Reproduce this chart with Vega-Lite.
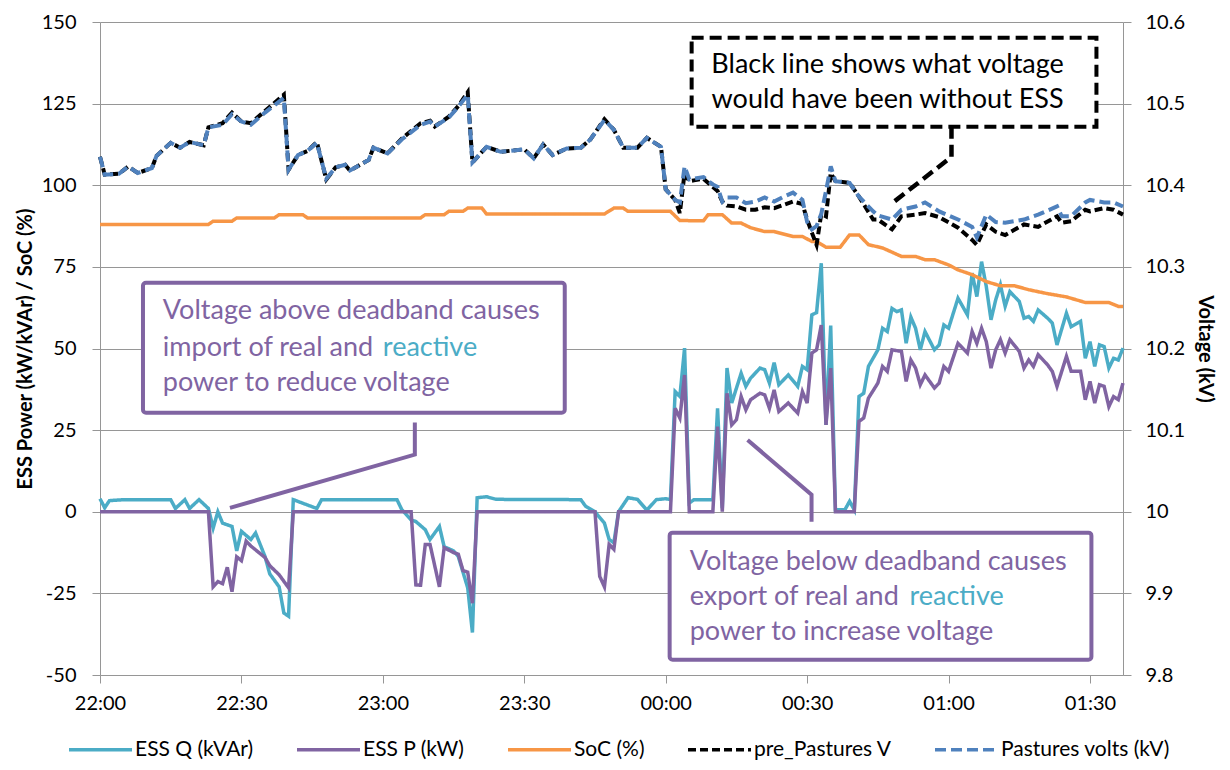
{
  "$schema": "https://vega.github.io/schema/vega-lite/v6.json",
  "width": 1023,
  "height": 653,
  "autosize": "none",
  "padding": {"left": 100, "top": 22, "right": 107, "bottom": 95},
  "background": "white",
  "config": {
    "view": {"stroke": null},
    "font": "Lato",
    "legend": {
      "orient": "none",
      "legendX": -33,
      "legendY": 694,
      "direction": "horizontal",
      "columns": 5,
      "symbolType": "stroke",
      "symbolSize": 3969,
      "symbolStrokeWidth": 3.5,
      "labelFontSize": 21,
      "labelFont": "Lato",
      "labelColor": "#000000",
      "labelOffset": 1,
      "labelLimit": 400,
      "columnPadding": 36,
      "padding": 0
    }
  },
  "datasets": {
    "series": [
      {"time":"2020-01-01T22:00","series":"ESS Q (kVAr)","value":4},
      {"time":"2020-01-01T22:01","series":"ESS Q (kVAr)","value":1.2},
      {"time":"2020-01-01T22:02","series":"ESS Q (kVAr)","value":3.4},
      {"time":"2020-01-01T22:05","series":"ESS Q (kVAr)","value":3.7},
      {"time":"2020-01-01T22:15","series":"ESS Q (kVAr)","value":3.7},
      {"time":"2020-01-01T22:16","series":"ESS Q (kVAr)","value":1},
      {"time":"2020-01-01T22:18","series":"ESS Q (kVAr)","value":3.7},
      {"time":"2020-01-01T22:19","series":"ESS Q (kVAr)","value":1},
      {"time":"2020-01-01T22:21","series":"ESS Q (kVAr)","value":3.7},
      {"time":"2020-01-01T22:23","series":"ESS Q (kVAr)","value":1},
      {"time":"2020-01-01T22:24","series":"ESS Q (kVAr)","value":-5},
      {"time":"2020-01-01T22:25","series":"ESS Q (kVAr)","value":0},
      {"time":"2020-01-01T22:26","series":"ESS Q (kVAr)","value":-3.5},
      {"time":"2020-01-01T22:28","series":"ESS Q (kVAr)","value":-4.5},
      {"time":"2020-01-01T22:29","series":"ESS Q (kVAr)","value":-12},
      {"time":"2020-01-01T22:30","series":"ESS Q (kVAr)","value":-6},
      {"time":"2020-01-01T22:32","series":"ESS Q (kVAr)","value":-8.5},
      {"time":"2020-01-01T22:33","series":"ESS Q (kVAr)","value":-6.5},
      {"time":"2020-01-01T22:35","series":"ESS Q (kVAr)","value":-13.7},
      {"time":"2020-01-01T22:36","series":"ESS Q (kVAr)","value":-19},
      {"time":"2020-01-01T22:38","series":"ESS Q (kVAr)","value":-23},
      {"time":"2020-01-01T22:39","series":"ESS Q (kVAr)","value":-31},
      {"time":"2020-01-01T22:40","series":"ESS Q (kVAr)","value":-32},
      {"time":"2020-01-01T22:41","series":"ESS Q (kVAr)","value":3.7},
      {"time":"2020-01-01T22:46","series":"ESS Q (kVAr)","value":1},
      {"time":"2020-01-01T22:47","series":"ESS Q (kVAr)","value":3.7},
      {"time":"2020-01-01T23:03","series":"ESS Q (kVAr)","value":3.7},
      {"time":"2020-01-01T23:04","series":"ESS Q (kVAr)","value":0.7},
      {"time":"2020-01-01T23:06","series":"ESS Q (kVAr)","value":-2.5},
      {"time":"2020-01-01T23:07","series":"ESS Q (kVAr)","value":-3},
      {"time":"2020-01-01T23:09","series":"ESS Q (kVAr)","value":-5.5},
      {"time":"2020-01-01T23:10","series":"ESS Q (kVAr)","value":-8.5},
      {"time":"2020-01-01T23:12","series":"ESS Q (kVAr)","value":-4.5},
      {"time":"2020-01-01T23:13","series":"ESS Q (kVAr)","value":-10.7},
      {"time":"2020-01-01T23:15","series":"ESS Q (kVAr)","value":-12},
      {"time":"2020-01-01T23:16","series":"ESS Q (kVAr)","value":-13.7},
      {"time":"2020-01-01T23:17","series":"ESS Q (kVAr)","value":-18.5},
      {"time":"2020-01-01T23:18","series":"ESS Q (kVAr)","value":-23.3},
      {"time":"2020-01-01T23:19","series":"ESS Q (kVAr)","value":-37},
      {"time":"2020-01-01T23:20","series":"ESS Q (kVAr)","value":4.3},
      {"time":"2020-01-01T23:22","series":"ESS Q (kVAr)","value":4.6},
      {"time":"2020-01-01T23:24","series":"ESS Q (kVAr)","value":3.8},
      {"time":"2020-01-01T23:42","series":"ESS Q (kVAr)","value":3.7},
      {"time":"2020-01-01T23:43","series":"ESS Q (kVAr)","value":1.7},
      {"time":"2020-01-01T23:45","series":"ESS Q (kVAr)","value":0},
      {"time":"2020-01-01T23:47","series":"ESS Q (kVAr)","value":-3.5},
      {"time":"2020-01-01T23:48","series":"ESS Q (kVAr)","value":-8.5},
      {"time":"2020-01-01T23:49","series":"ESS Q (kVAr)","value":-9.5},
      {"time":"2020-01-01T23:50","series":"ESS Q (kVAr)","value":0},
      {"time":"2020-01-01T23:52","series":"ESS Q (kVAr)","value":4.3},
      {"time":"2020-01-01T23:54","series":"ESS Q (kVAr)","value":3.8},
      {"time":"2020-01-01T23:56","series":"ESS Q (kVAr)","value":0.5},
      {"time":"2020-01-01T23:58","series":"ESS Q (kVAr)","value":3.7},
      {"time":"2020-01-02T00:00","series":"ESS Q (kVAr)","value":4},
      {"time":"2020-01-02T00:01","series":"ESS Q (kVAr)","value":3.7},
      {"time":"2020-01-02T00:02","series":"ESS Q (kVAr)","value":36.8},
      {"time":"2020-01-02T00:03","series":"ESS Q (kVAr)","value":35.3},
      {"time":"2020-01-02T00:04","series":"ESS Q (kVAr)","value":50.1},
      {"time":"2020-01-02T00:05","series":"ESS Q (kVAr)","value":2.7},
      {"time":"2020-01-02T00:06","series":"ESS Q (kVAr)","value":3.7},
      {"time":"2020-01-02T00:10","series":"ESS Q (kVAr)","value":3.7},
      {"time":"2020-01-02T00:11","series":"ESS Q (kVAr)","value":31.7},
      {"time":"2020-01-02T00:12","series":"ESS Q (kVAr)","value":1.1},
      {"time":"2020-01-02T00:13","series":"ESS Q (kVAr)","value":44},
      {"time":"2020-01-02T00:14","series":"ESS Q (kVAr)","value":33.3},
      {"time":"2020-01-02T00:16","series":"ESS Q (kVAr)","value":42.4},
      {"time":"2020-01-02T00:17","series":"ESS Q (kVAr)","value":38.4},
      {"time":"2020-01-02T00:18","series":"ESS Q (kVAr)","value":40.9},
      {"time":"2020-01-02T00:20","series":"ESS Q (kVAr)","value":44},
      {"time":"2020-01-02T00:21","series":"ESS Q (kVAr)","value":43.5},
      {"time":"2020-01-02T00:22","series":"ESS Q (kVAr)","value":39.4},
      {"time":"2020-01-02T00:23","series":"ESS Q (kVAr)","value":45.7},
      {"time":"2020-01-02T00:24","series":"ESS Q (kVAr)","value":38.9},
      {"time":"2020-01-02T00:26","series":"ESS Q (kVAr)","value":41.9},
      {"time":"2020-01-02T00:28","series":"ESS Q (kVAr)","value":38.4},
      {"time":"2020-01-02T00:29","series":"ESS Q (kVAr)","value":44.5},
      {"time":"2020-01-02T00:30","series":"ESS Q (kVAr)","value":43.5},
      {"time":"2020-01-02T00:31","series":"ESS Q (kVAr)","value":60.3},
      {"time":"2020-01-02T00:32","series":"ESS Q (kVAr)","value":61},
      {"time":"2020-01-02T00:33","series":"ESS Q (kVAr)","value":76.1},
      {"time":"2020-01-02T00:34","series":"ESS Q (kVAr)","value":26.6},
      {"time":"2020-01-02T00:35","series":"ESS Q (kVAr)","value":57},
      {"time":"2020-01-02T00:36","series":"ESS Q (kVAr)","value":0.6},
      {"time":"2020-01-02T00:38","series":"ESS Q (kVAr)","value":0.6},
      {"time":"2020-01-02T00:39","series":"ESS Q (kVAr)","value":3.2},
      {"time":"2020-01-02T00:40","series":"ESS Q (kVAr)","value":0.6},
      {"time":"2020-01-02T00:41","series":"ESS Q (kVAr)","value":35.3},
      {"time":"2020-01-02T00:42","series":"ESS Q (kVAr)","value":36.3},
      {"time":"2020-01-02T00:43","series":"ESS Q (kVAr)","value":44.5},
      {"time":"2020-01-02T00:45","series":"ESS Q (kVAr)","value":49.6},
      {"time":"2020-01-02T00:46","series":"ESS Q (kVAr)","value":56.2},
      {"time":"2020-01-02T00:47","series":"ESS Q (kVAr)","value":55.2},
      {"time":"2020-01-02T00:48","series":"ESS Q (kVAr)","value":62.3},
      {"time":"2020-01-02T00:49","series":"ESS Q (kVAr)","value":61.3},
      {"time":"2020-01-02T00:50","series":"ESS Q (kVAr)","value":61.8},
      {"time":"2020-01-02T00:51","series":"ESS Q (kVAr)","value":51.6},
      {"time":"2020-01-02T00:52","series":"ESS Q (kVAr)","value":59.6},
      {"time":"2020-01-02T00:53","series":"ESS Q (kVAr)","value":56.2},
      {"time":"2020-01-02T00:54","series":"ESS Q (kVAr)","value":49.6},
      {"time":"2020-01-02T00:55","series":"ESS Q (kVAr)","value":55.2},
      {"time":"2020-01-02T00:57","series":"ESS Q (kVAr)","value":49.6},
      {"time":"2020-01-02T00:58","series":"ESS Q (kVAr)","value":51.1},
      {"time":"2020-01-02T00:59","series":"ESS Q (kVAr)","value":57.2},
      {"time":"2020-01-02T01:00","series":"ESS Q (kVAr)","value":56.2},
      {"time":"2020-01-02T01:02","series":"ESS Q (kVAr)","value":65.4},
      {"time":"2020-01-02T01:04","series":"ESS Q (kVAr)","value":60.3},
      {"time":"2020-01-02T01:05","series":"ESS Q (kVAr)","value":73.1},
      {"time":"2020-01-02T01:06","series":"ESS Q (kVAr)","value":65.9},
      {"time":"2020-01-02T01:07","series":"ESS Q (kVAr)","value":76.6},
      {"time":"2020-01-02T01:08","series":"ESS Q (kVAr)","value":69},
      {"time":"2020-01-02T01:09","series":"ESS Q (kVAr)","value":58.8},
      {"time":"2020-01-02T01:10","series":"ESS Q (kVAr)","value":64.9},
      {"time":"2020-01-02T01:11","series":"ESS Q (kVAr)","value":69.5},
      {"time":"2020-01-02T01:12","series":"ESS Q (kVAr)","value":62.9},
      {"time":"2020-01-02T01:13","series":"ESS Q (kVAr)","value":67.4},
      {"time":"2020-01-02T01:15","series":"ESS Q (kVAr)","value":64.4},
      {"time":"2020-01-02T01:16","series":"ESS Q (kVAr)","value":59.3},
      {"time":"2020-01-02T01:17","series":"ESS Q (kVAr)","value":59.8},
      {"time":"2020-01-02T01:18","series":"ESS Q (kVAr)","value":58.3},
      {"time":"2020-01-02T01:19","series":"ESS Q (kVAr)","value":61.8},
      {"time":"2020-01-02T01:21","series":"ESS Q (kVAr)","value":59.3},
      {"time":"2020-01-02T01:22","series":"ESS Q (kVAr)","value":57.8},
      {"time":"2020-01-02T01:23","series":"ESS Q (kVAr)","value":51.1},
      {"time":"2020-01-02T01:25","series":"ESS Q (kVAr)","value":60.8},
      {"time":"2020-01-02T01:26","series":"ESS Q (kVAr)","value":56.7},
      {"time":"2020-01-02T01:28","series":"ESS Q (kVAr)","value":58.3},
      {"time":"2020-01-02T01:29","series":"ESS Q (kVAr)","value":47},
      {"time":"2020-01-02T01:30","series":"ESS Q (kVAr)","value":52.1},
      {"time":"2020-01-02T01:31","series":"ESS Q (kVAr)","value":44.5},
      {"time":"2020-01-02T01:32","series":"ESS Q (kVAr)","value":51.1},
      {"time":"2020-01-02T01:33","series":"ESS Q (kVAr)","value":50.6},
      {"time":"2020-01-02T01:34","series":"ESS Q (kVAr)","value":44},
      {"time":"2020-01-02T01:35","series":"ESS Q (kVAr)","value":47},
      {"time":"2020-01-02T01:36","series":"ESS Q (kVAr)","value":46.5},
      {"time":"2020-01-02T01:37","series":"ESS Q (kVAr)","value":50.1},

      {"time":"2020-01-01T22:00","series":"ESS P (kW)","value":0},
      {"time":"2020-01-01T22:23","series":"ESS P (kW)","value":0},
      {"time":"2020-01-01T22:24","series":"ESS P (kW)","value":-23},
      {"time":"2020-01-01T22:25","series":"ESS P (kW)","value":-21.4},
      {"time":"2020-01-01T22:26","series":"ESS P (kW)","value":-22},
      {"time":"2020-01-01T22:27","series":"ESS P (kW)","value":-17},
      {"time":"2020-01-01T22:28","series":"ESS P (kW)","value":-24.5},
      {"time":"2020-01-01T22:29","series":"ESS P (kW)","value":-13.8},
      {"time":"2020-01-01T22:30","series":"ESS P (kW)","value":-15},
      {"time":"2020-01-01T22:31","series":"ESS P (kW)","value":-9},
      {"time":"2020-01-01T22:32","series":"ESS P (kW)","value":-10.5},
      {"time":"2020-01-01T22:35","series":"ESS P (kW)","value":-14},
      {"time":"2020-01-01T22:36","series":"ESS P (kW)","value":-16.5},
      {"time":"2020-01-01T22:38","series":"ESS P (kW)","value":-19.3},
      {"time":"2020-01-01T22:40","series":"ESS P (kW)","value":-23.3},
      {"time":"2020-01-01T22:41","series":"ESS P (kW)","value":0},
      {"time":"2020-01-01T23:06","series":"ESS P (kW)","value":0},
      {"time":"2020-01-01T23:07","series":"ESS P (kW)","value":-22.4},
      {"time":"2020-01-01T23:08","series":"ESS P (kW)","value":-22.5},
      {"time":"2020-01-01T23:09","series":"ESS P (kW)","value":-10},
      {"time":"2020-01-01T23:10","series":"ESS P (kW)","value":-10},
      {"time":"2020-01-01T23:12","series":"ESS P (kW)","value":-23},
      {"time":"2020-01-01T23:13","series":"ESS P (kW)","value":-11},
      {"time":"2020-01-01T23:15","series":"ESS P (kW)","value":-12.5},
      {"time":"2020-01-01T23:16","series":"ESS P (kW)","value":-13},
      {"time":"2020-01-01T23:17","series":"ESS P (kW)","value":-18},
      {"time":"2020-01-01T23:18","series":"ESS P (kW)","value":-18.5},
      {"time":"2020-01-01T23:19","series":"ESS P (kW)","value":-28},
      {"time":"2020-01-01T23:20","series":"ESS P (kW)","value":0},
      {"time":"2020-01-01T23:45","series":"ESS P (kW)","value":0},
      {"time":"2020-01-01T23:46","series":"ESS P (kW)","value":-19.8},
      {"time":"2020-01-01T23:47","series":"ESS P (kW)","value":-23},
      {"time":"2020-01-01T23:48","series":"ESS P (kW)","value":-10},
      {"time":"2020-01-01T23:49","series":"ESS P (kW)","value":-11.5},
      {"time":"2020-01-01T23:50","series":"ESS P (kW)","value":0},
      {"time":"2020-01-02T00:01","series":"ESS P (kW)","value":0},
      {"time":"2020-01-02T00:02","series":"ESS P (kW)","value":31.7},
      {"time":"2020-01-02T00:03","series":"ESS P (kW)","value":28.7},
      {"time":"2020-01-02T00:04","series":"ESS P (kW)","value":41.9},
      {"time":"2020-01-02T00:05","series":"ESS P (kW)","value":0},
      {"time":"2020-01-02T00:10","series":"ESS P (kW)","value":0},
      {"time":"2020-01-02T00:11","series":"ESS P (kW)","value":26.1},
      {"time":"2020-01-02T00:12","series":"ESS P (kW)","value":0},
      {"time":"2020-01-02T00:13","series":"ESS P (kW)","value":36.3},
      {"time":"2020-01-02T00:14","series":"ESS P (kW)","value":26.6},
      {"time":"2020-01-02T00:15","series":"ESS P (kW)","value":28.2},
      {"time":"2020-01-02T00:16","series":"ESS P (kW)","value":35.3},
      {"time":"2020-01-02T00:17","series":"ESS P (kW)","value":31.2},
      {"time":"2020-01-02T00:18","series":"ESS P (kW)","value":34.3},
      {"time":"2020-01-02T00:20","series":"ESS P (kW)","value":36.3},
      {"time":"2020-01-02T00:21","series":"ESS P (kW)","value":35.8},
      {"time":"2020-01-02T00:22","series":"ESS P (kW)","value":31.7},
      {"time":"2020-01-02T00:23","series":"ESS P (kW)","value":37.3},
      {"time":"2020-01-02T00:24","series":"ESS P (kW)","value":30.7},
      {"time":"2020-01-02T00:26","series":"ESS P (kW)","value":33.3},
      {"time":"2020-01-02T00:28","series":"ESS P (kW)","value":30.2},
      {"time":"2020-01-02T00:29","series":"ESS P (kW)","value":36.8},
      {"time":"2020-01-02T00:30","series":"ESS P (kW)","value":33.3},
      {"time":"2020-01-02T00:31","series":"ESS P (kW)","value":48.6},
      {"time":"2020-01-02T00:32","series":"ESS P (kW)","value":49.6},
      {"time":"2020-01-02T00:33","series":"ESS P (kW)","value":57.2},
      {"time":"2020-01-02T00:34","series":"ESS P (kW)","value":26.6},
      {"time":"2020-01-02T00:35","series":"ESS P (kW)","value":44},
      {"time":"2020-01-02T00:36","series":"ESS P (kW)","value":0},
      {"time":"2020-01-02T00:40","series":"ESS P (kW)","value":0},
      {"time":"2020-01-02T00:41","series":"ESS P (kW)","value":27.7},
      {"time":"2020-01-02T00:42","series":"ESS P (kW)","value":28.7},
      {"time":"2020-01-02T00:43","series":"ESS P (kW)","value":34.8},
      {"time":"2020-01-02T00:45","series":"ESS P (kW)","value":39.4},
      {"time":"2020-01-02T00:46","series":"ESS P (kW)","value":44.5},
      {"time":"2020-01-02T00:47","series":"ESS P (kW)","value":43},
      {"time":"2020-01-02T00:48","series":"ESS P (kW)","value":49.6},
      {"time":"2020-01-02T00:50","series":"ESS P (kW)","value":49.1},
      {"time":"2020-01-02T00:51","series":"ESS P (kW)","value":39.9},
      {"time":"2020-01-02T00:52","series":"ESS P (kW)","value":46.5},
      {"time":"2020-01-02T00:53","series":"ESS P (kW)","value":44},
      {"time":"2020-01-02T00:54","series":"ESS P (kW)","value":38.9},
      {"time":"2020-01-02T00:55","series":"ESS P (kW)","value":41.9},
      {"time":"2020-01-02T00:57","series":"ESS P (kW)","value":37.9},
      {"time":"2020-01-02T00:58","series":"ESS P (kW)","value":39.4},
      {"time":"2020-01-02T00:59","series":"ESS P (kW)","value":44.5},
      {"time":"2020-01-02T01:00","series":"ESS P (kW)","value":43},
      {"time":"2020-01-02T01:02","series":"ESS P (kW)","value":51.6},
      {"time":"2020-01-02T01:04","series":"ESS P (kW)","value":48.6},
      {"time":"2020-01-02T01:05","series":"ESS P (kW)","value":55.2},
      {"time":"2020-01-02T01:06","series":"ESS P (kW)","value":51.6},
      {"time":"2020-01-02T01:07","series":"ESS P (kW)","value":56.2},
      {"time":"2020-01-02T01:08","series":"ESS P (kW)","value":52.1},
      {"time":"2020-01-02T01:09","series":"ESS P (kW)","value":44},
      {"time":"2020-01-02T01:10","series":"ESS P (kW)","value":49.6},
      {"time":"2020-01-02T01:11","series":"ESS P (kW)","value":52.7},
      {"time":"2020-01-02T01:12","series":"ESS P (kW)","value":48.6},
      {"time":"2020-01-02T01:13","series":"ESS P (kW)","value":52.7},
      {"time":"2020-01-02T01:15","series":"ESS P (kW)","value":49.1},
      {"time":"2020-01-02T01:16","series":"ESS P (kW)","value":44},
      {"time":"2020-01-02T01:17","series":"ESS P (kW)","value":46.5},
      {"time":"2020-01-02T01:18","series":"ESS P (kW)","value":44.5},
      {"time":"2020-01-02T01:19","series":"ESS P (kW)","value":48.1},
      {"time":"2020-01-02T01:21","series":"ESS P (kW)","value":45},
      {"time":"2020-01-02T01:22","series":"ESS P (kW)","value":43},
      {"time":"2020-01-02T01:23","series":"ESS P (kW)","value":38.4},
      {"time":"2020-01-02T01:25","series":"ESS P (kW)","value":47.6},
      {"time":"2020-01-02T01:26","series":"ESS P (kW)","value":43},
      {"time":"2020-01-02T01:28","series":"ESS P (kW)","value":43},
      {"time":"2020-01-02T01:29","series":"ESS P (kW)","value":34.3},
      {"time":"2020-01-02T01:30","series":"ESS P (kW)","value":39.9},
      {"time":"2020-01-02T01:31","series":"ESS P (kW)","value":33.3},
      {"time":"2020-01-02T01:32","series":"ESS P (kW)","value":38.9},
      {"time":"2020-01-02T01:33","series":"ESS P (kW)","value":38.4},
      {"time":"2020-01-02T01:34","series":"ESS P (kW)","value":32.2},
      {"time":"2020-01-02T01:35","series":"ESS P (kW)","value":35.3},
      {"time":"2020-01-02T01:36","series":"ESS P (kW)","value":34.3},
      {"time":"2020-01-02T01:37","series":"ESS P (kW)","value":39.4},

      {"time":"2020-01-01T22:00","series":"SoC (%)","value":88},
      {"time":"2020-01-01T22:23","series":"SoC (%)","value":88},
      {"time":"2020-01-01T22:24","series":"SoC (%)","value":89},
      {"time":"2020-01-01T22:28","series":"SoC (%)","value":89},
      {"time":"2020-01-01T22:29","series":"SoC (%)","value":90},
      {"time":"2020-01-01T22:37","series":"SoC (%)","value":90},
      {"time":"2020-01-01T22:38","series":"SoC (%)","value":91},
      {"time":"2020-01-01T22:43","series":"SoC (%)","value":91},
      {"time":"2020-01-01T22:44","series":"SoC (%)","value":90},
      {"time":"2020-01-01T23:08","series":"SoC (%)","value":90},
      {"time":"2020-01-01T23:09","series":"SoC (%)","value":91},
      {"time":"2020-01-01T23:13","series":"SoC (%)","value":91},
      {"time":"2020-01-01T23:14","series":"SoC (%)","value":92},
      {"time":"2020-01-01T23:17","series":"SoC (%)","value":92},
      {"time":"2020-01-01T23:18","series":"SoC (%)","value":93},
      {"time":"2020-01-01T23:21","series":"SoC (%)","value":93},
      {"time":"2020-01-01T23:22","series":"SoC (%)","value":91.2},
      {"time":"2020-01-01T23:47","series":"SoC (%)","value":91.2},
      {"time":"2020-01-01T23:49","series":"SoC (%)","value":93},
      {"time":"2020-01-01T23:51","series":"SoC (%)","value":93},
      {"time":"2020-01-01T23:52","series":"SoC (%)","value":92},
      {"time":"2020-01-02T00:01","series":"SoC (%)","value":92},
      {"time":"2020-01-02T00:03","series":"SoC (%)","value":89.2},
      {"time":"2020-01-02T00:08","series":"SoC (%)","value":89.1},
      {"time":"2020-01-02T00:09","series":"SoC (%)","value":91},
      {"time":"2020-01-02T00:12","series":"SoC (%)","value":91},
      {"time":"2020-01-02T00:14","series":"SoC (%)","value":88.4},
      {"time":"2020-01-02T00:16","series":"SoC (%)","value":88.4},
      {"time":"2020-01-02T00:18","series":"SoC (%)","value":87},
      {"time":"2020-01-02T00:21","series":"SoC (%)","value":85.8},
      {"time":"2020-01-02T00:23","series":"SoC (%)","value":85.8},
      {"time":"2020-01-02T00:27","series":"SoC (%)","value":84.3},
      {"time":"2020-01-02T00:29","series":"SoC (%)","value":84.3},
      {"time":"2020-01-02T00:31","series":"SoC (%)","value":82.8},
      {"time":"2020-01-02T00:32","series":"SoC (%)","value":82.8},
      {"time":"2020-01-02T00:34","series":"SoC (%)","value":81},
      {"time":"2020-01-02T00:37","series":"SoC (%)","value":81},
      {"time":"2020-01-02T00:39","series":"SoC (%)","value":84.8},
      {"time":"2020-01-02T00:41","series":"SoC (%)","value":84.8},
      {"time":"2020-01-02T00:43","series":"SoC (%)","value":81.8},
      {"time":"2020-01-02T00:46","series":"SoC (%)","value":80.8},
      {"time":"2020-01-02T00:50","series":"SoC (%)","value":78.2},
      {"time":"2020-01-02T00:53","series":"SoC (%)","value":78.2},
      {"time":"2020-01-02T00:55","series":"SoC (%)","value":77.2},
      {"time":"2020-01-02T00:57","series":"SoC (%)","value":77.2},
      {"time":"2020-01-02T01:00","series":"SoC (%)","value":75.6},
      {"time":"2020-01-02T01:02","series":"SoC (%)","value":74.1},
      {"time":"2020-01-02T01:05","series":"SoC (%)","value":72.6},
      {"time":"2020-01-02T01:08","series":"SoC (%)","value":70.5},
      {"time":"2020-01-02T01:11","series":"SoC (%)","value":69.2},
      {"time":"2020-01-02T01:14","series":"SoC (%)","value":69.2},
      {"time":"2020-01-02T01:17","series":"SoC (%)","value":68},
      {"time":"2020-01-02T01:21","series":"SoC (%)","value":66.8},
      {"time":"2020-01-02T01:25","series":"SoC (%)","value":65.8},
      {"time":"2020-01-02T01:29","series":"SoC (%)","value":64.1},
      {"time":"2020-01-02T01:34","series":"SoC (%)","value":64.1},
      {"time":"2020-01-02T01:36","series":"SoC (%)","value":62.9},
      {"time":"2020-01-02T01:37","series":"SoC (%)","value":62.9},

      {"time":"2020-01-01T22:00","series":"pre_Pastures V","value":10.435},
      {"time":"2020-01-01T22:01","series":"pre_Pastures V","value":10.413},
      {"time":"2020-01-01T22:04","series":"pre_Pastures V","value":10.414},
      {"time":"2020-01-01T22:06","series":"pre_Pastures V","value":10.423},
      {"time":"2020-01-01T22:08","series":"pre_Pastures V","value":10.415},
      {"time":"2020-01-01T22:11","series":"pre_Pastures V","value":10.421},
      {"time":"2020-01-01T22:12","series":"pre_Pastures V","value":10.436},
      {"time":"2020-01-01T22:15","series":"pre_Pastures V","value":10.452},
      {"time":"2020-01-01T22:17","series":"pre_Pastures V","value":10.446},
      {"time":"2020-01-01T22:19","series":"pre_Pastures V","value":10.453},
      {"time":"2020-01-01T22:22","series":"pre_Pastures V","value":10.449},
      {"time":"2020-01-01T22:23","series":"pre_Pastures V","value":10.471},
      {"time":"2020-01-01T22:26","series":"pre_Pastures V","value":10.476},
      {"time":"2020-01-01T22:28","series":"pre_Pastures V","value":10.489},
      {"time":"2020-01-01T22:30","series":"pre_Pastures V","value":10.478},
      {"time":"2020-01-01T22:32","series":"pre_Pastures V","value":10.476},
      {"time":"2020-01-01T22:35","series":"pre_Pastures V","value":10.491},
      {"time":"2020-01-01T22:39","series":"pre_Pastures V","value":10.511},
      {"time":"2020-01-01T22:40","series":"pre_Pastures V","value":10.419},
      {"time":"2020-01-01T22:42","series":"pre_Pastures V","value":10.437},
      {"time":"2020-01-01T22:44","series":"pre_Pastures V","value":10.442},
      {"time":"2020-01-01T22:46","series":"pre_Pastures V","value":10.453},
      {"time":"2020-01-01T22:48","series":"pre_Pastures V","value":10.407},
      {"time":"2020-01-01T22:50","series":"pre_Pastures V","value":10.422},
      {"time":"2020-01-01T22:52","series":"pre_Pastures V","value":10.425},
      {"time":"2020-01-01T22:53","series":"pre_Pastures V","value":10.418},
      {"time":"2020-01-01T22:57","series":"pre_Pastures V","value":10.431},
      {"time":"2020-01-01T22:58","series":"pre_Pastures V","value":10.446},
      {"time":"2020-01-01T23:01","series":"pre_Pastures V","value":10.439},
      {"time":"2020-01-01T23:04","series":"pre_Pastures V","value":10.457},
      {"time":"2020-01-01T23:08","series":"pre_Pastures V","value":10.476},
      {"time":"2020-01-01T23:10","series":"pre_Pastures V","value":10.479},
      {"time":"2020-01-01T23:11","series":"pre_Pastures V","value":10.472},
      {"time":"2020-01-01T23:14","series":"pre_Pastures V","value":10.484},
      {"time":"2020-01-01T23:16","series":"pre_Pastures V","value":10.497},
      {"time":"2020-01-01T23:18","series":"pre_Pastures V","value":10.514},
      {"time":"2020-01-01T23:19","series":"pre_Pastures V","value":10.428},
      {"time":"2020-01-01T23:22","series":"pre_Pastures V","value":10.447},
      {"time":"2020-01-01T23:25","series":"pre_Pastures V","value":10.441},
      {"time":"2020-01-01T23:30","series":"pre_Pastures V","value":10.444},
      {"time":"2020-01-01T23:32","series":"pre_Pastures V","value":10.433},
      {"time":"2020-01-01T23:34","series":"pre_Pastures V","value":10.45},
      {"time":"2020-01-01T23:36","series":"pre_Pastures V","value":10.437},
      {"time":"2020-01-01T23:39","series":"pre_Pastures V","value":10.445},
      {"time":"2020-01-01T23:42","series":"pre_Pastures V","value":10.446},
      {"time":"2020-01-01T23:44","series":"pre_Pastures V","value":10.456},
      {"time":"2020-01-01T23:47","series":"pre_Pastures V","value":10.481},
      {"time":"2020-01-01T23:49","series":"pre_Pastures V","value":10.468},
      {"time":"2020-01-01T23:51","series":"pre_Pastures V","value":10.446},
      {"time":"2020-01-01T23:54","series":"pre_Pastures V","value":10.446},
      {"time":"2020-01-01T23:56","series":"pre_Pastures V","value":10.458},
      {"time":"2020-01-01T23:59","series":"pre_Pastures V","value":10.447},
      {"time":"2020-01-02T00:00","series":"pre_Pastures V","value":10.395},
      {"time":"2020-01-02T00:02","series":"pre_Pastures V","value":10.382},
      {"time":"2020-01-02T00:03","series":"pre_Pastures V","value":10.366},
      {"time":"2020-01-02T00:04","series":"pre_Pastures V","value":10.415},
      {"time":"2020-01-02T00:05","series":"pre_Pastures V","value":10.405},
      {"time":"2020-01-02T00:06","series":"pre_Pastures V","value":10.406},
      {"time":"2020-01-02T00:08","series":"pre_Pastures V","value":10.408},
      {"time":"2020-01-02T00:10","series":"pre_Pastures V","value":10.398},
      {"time":"2020-01-02T00:11","series":"pre_Pastures V","value":10.393},
      {"time":"2020-01-02T00:12","series":"pre_Pastures V","value":10.38},
      {"time":"2020-01-02T00:13","series":"pre_Pastures V","value":10.375},
      {"time":"2020-01-02T00:15","series":"pre_Pastures V","value":10.374},
      {"time":"2020-01-02T00:17","series":"pre_Pastures V","value":10.37},
      {"time":"2020-01-02T00:19","series":"pre_Pastures V","value":10.37},
      {"time":"2020-01-02T00:21","series":"pre_Pastures V","value":10.373},
      {"time":"2020-01-02T00:23","series":"pre_Pastures V","value":10.372},
      {"time":"2020-01-02T00:25","series":"pre_Pastures V","value":10.376},
      {"time":"2020-01-02T00:27","series":"pre_Pastures V","value":10.38},
      {"time":"2020-01-02T00:29","series":"pre_Pastures V","value":10.377},
      {"time":"2020-01-02T00:30","series":"pre_Pastures V","value":10.358},
      {"time":"2020-01-02T00:31","series":"pre_Pastures V","value":10.342},
      {"time":"2020-01-02T00:32","series":"pre_Pastures V","value":10.327},
      {"time":"2020-01-02T00:33","series":"pre_Pastures V","value":10.365},
      {"time":"2020-01-02T00:34","series":"pre_Pastures V","value":10.362},
      {"time":"2020-01-02T00:35","series":"pre_Pastures V","value":10.415},
      {"time":"2020-01-02T00:36","series":"pre_Pastures V","value":10.405},
      {"time":"2020-01-02T00:39","series":"pre_Pastures V","value":10.403},
      {"time":"2020-01-02T00:41","series":"pre_Pastures V","value":10.386},
      {"time":"2020-01-02T00:44","series":"pre_Pastures V","value":10.358},
      {"time":"2020-01-02T00:45","series":"pre_Pastures V","value":10.358},
      {"time":"2020-01-02T00:48","series":"pre_Pastures V","value":10.346},
      {"time":"2020-01-02T00:50","series":"pre_Pastures V","value":10.362},
      {"time":"2020-01-02T00:53","series":"pre_Pastures V","value":10.364},
      {"time":"2020-01-02T00:55","series":"pre_Pastures V","value":10.366},
      {"time":"2020-01-02T00:58","series":"pre_Pastures V","value":10.361},
      {"time":"2020-01-02T01:02","series":"pre_Pastures V","value":10.348},
      {"time":"2020-01-02T01:05","series":"pre_Pastures V","value":10.333},
      {"time":"2020-01-02T01:06","series":"pre_Pastures V","value":10.327},
      {"time":"2020-01-02T01:08","series":"pre_Pastures V","value":10.352},
      {"time":"2020-01-02T01:10","series":"pre_Pastures V","value":10.343},
      {"time":"2020-01-02T01:12","series":"pre_Pastures V","value":10.339},
      {"time":"2020-01-02T01:16","series":"pre_Pastures V","value":10.352},
      {"time":"2020-01-02T01:19","series":"pre_Pastures V","value":10.349},
      {"time":"2020-01-02T01:23","series":"pre_Pastures V","value":10.362},
      {"time":"2020-01-02T01:24","series":"pre_Pastures V","value":10.354},
      {"time":"2020-01-02T01:26","series":"pre_Pastures V","value":10.356},
      {"time":"2020-01-02T01:29","series":"pre_Pastures V","value":10.37},
      {"time":"2020-01-02T01:30","series":"pre_Pastures V","value":10.368},
      {"time":"2020-01-02T01:33","series":"pre_Pastures V","value":10.372},
      {"time":"2020-01-02T01:35","series":"pre_Pastures V","value":10.37},
      {"time":"2020-01-02T01:37","series":"pre_Pastures V","value":10.364},

      {"time":"2020-01-01T22:00","series":"Pastures volts (kV)","value":10.435},
      {"time":"2020-01-01T22:01","series":"Pastures volts (kV)","value":10.413},
      {"time":"2020-01-01T22:04","series":"Pastures volts (kV)","value":10.414},
      {"time":"2020-01-01T22:06","series":"Pastures volts (kV)","value":10.423},
      {"time":"2020-01-01T22:08","series":"Pastures volts (kV)","value":10.415},
      {"time":"2020-01-01T22:11","series":"Pastures volts (kV)","value":10.421},
      {"time":"2020-01-01T22:12","series":"Pastures volts (kV)","value":10.436},
      {"time":"2020-01-01T22:15","series":"Pastures volts (kV)","value":10.452},
      {"time":"2020-01-01T22:17","series":"Pastures volts (kV)","value":10.446},
      {"time":"2020-01-01T22:19","series":"Pastures volts (kV)","value":10.453},
      {"time":"2020-01-01T22:22","series":"Pastures volts (kV)","value":10.449},
      {"time":"2020-01-01T22:23","series":"Pastures volts (kV)","value":10.471},
      {"time":"2020-01-01T22:26","series":"Pastures volts (kV)","value":10.474},
      {"time":"2020-01-01T22:28","series":"Pastures volts (kV)","value":10.487},
      {"time":"2020-01-01T22:30","series":"Pastures volts (kV)","value":10.478},
      {"time":"2020-01-01T22:32","series":"Pastures volts (kV)","value":10.474},
      {"time":"2020-01-01T22:35","series":"Pastures volts (kV)","value":10.489},
      {"time":"2020-01-01T22:39","series":"Pastures volts (kV)","value":10.507},
      {"time":"2020-01-01T22:40","series":"Pastures volts (kV)","value":10.419},
      {"time":"2020-01-01T22:42","series":"Pastures volts (kV)","value":10.437},
      {"time":"2020-01-01T22:44","series":"Pastures volts (kV)","value":10.442},
      {"time":"2020-01-01T22:46","series":"Pastures volts (kV)","value":10.452},
      {"time":"2020-01-01T22:48","series":"Pastures volts (kV)","value":10.408},
      {"time":"2020-01-01T22:50","series":"Pastures volts (kV)","value":10.422},
      {"time":"2020-01-01T22:52","series":"Pastures volts (kV)","value":10.425},
      {"time":"2020-01-01T22:53","series":"Pastures volts (kV)","value":10.418},
      {"time":"2020-01-01T22:57","series":"Pastures volts (kV)","value":10.431},
      {"time":"2020-01-01T22:58","series":"Pastures volts (kV)","value":10.446},
      {"time":"2020-01-01T23:01","series":"Pastures volts (kV)","value":10.439},
      {"time":"2020-01-01T23:04","series":"Pastures volts (kV)","value":10.456},
      {"time":"2020-01-01T23:08","series":"Pastures volts (kV)","value":10.474},
      {"time":"2020-01-01T23:10","series":"Pastures volts (kV)","value":10.478},
      {"time":"2020-01-01T23:11","series":"Pastures volts (kV)","value":10.472},
      {"time":"2020-01-01T23:14","series":"Pastures volts (kV)","value":10.483},
      {"time":"2020-01-01T23:16","series":"Pastures volts (kV)","value":10.496},
      {"time":"2020-01-01T23:18","series":"Pastures volts (kV)","value":10.511},
      {"time":"2020-01-01T23:19","series":"Pastures volts (kV)","value":10.428},
      {"time":"2020-01-01T23:22","series":"Pastures volts (kV)","value":10.447},
      {"time":"2020-01-01T23:25","series":"Pastures volts (kV)","value":10.441},
      {"time":"2020-01-01T23:30","series":"Pastures volts (kV)","value":10.444},
      {"time":"2020-01-01T23:32","series":"Pastures volts (kV)","value":10.433},
      {"time":"2020-01-01T23:34","series":"Pastures volts (kV)","value":10.45},
      {"time":"2020-01-01T23:36","series":"Pastures volts (kV)","value":10.437},
      {"time":"2020-01-01T23:39","series":"Pastures volts (kV)","value":10.445},
      {"time":"2020-01-01T23:42","series":"Pastures volts (kV)","value":10.446},
      {"time":"2020-01-01T23:44","series":"Pastures volts (kV)","value":10.456},
      {"time":"2020-01-01T23:47","series":"Pastures volts (kV)","value":10.48},
      {"time":"2020-01-01T23:49","series":"Pastures volts (kV)","value":10.468},
      {"time":"2020-01-01T23:51","series":"Pastures volts (kV)","value":10.446},
      {"time":"2020-01-01T23:54","series":"Pastures volts (kV)","value":10.446},
      {"time":"2020-01-01T23:56","series":"Pastures volts (kV)","value":10.458},
      {"time":"2020-01-01T23:59","series":"Pastures volts (kV)","value":10.447},
      {"time":"2020-01-02T00:00","series":"Pastures volts (kV)","value":10.395},
      {"time":"2020-01-02T00:02","series":"Pastures volts (kV)","value":10.382},
      {"time":"2020-01-02T00:03","series":"Pastures volts (kV)","value":10.379},
      {"time":"2020-01-02T00:04","series":"Pastures volts (kV)","value":10.423},
      {"time":"2020-01-02T00:05","series":"Pastures volts (kV)","value":10.407},
      {"time":"2020-01-02T00:06","series":"Pastures volts (kV)","value":10.408},
      {"time":"2020-01-02T00:08","series":"Pastures volts (kV)","value":10.41},
      {"time":"2020-01-02T00:10","series":"Pastures volts (kV)","value":10.401},
      {"time":"2020-01-02T00:11","series":"Pastures volts (kV)","value":10.398},
      {"time":"2020-01-02T00:12","series":"Pastures volts (kV)","value":10.38},
      {"time":"2020-01-02T00:13","series":"Pastures volts (kV)","value":10.385},
      {"time":"2020-01-02T00:15","series":"Pastures volts (kV)","value":10.385},
      {"time":"2020-01-02T00:17","series":"Pastures volts (kV)","value":10.378},
      {"time":"2020-01-02T00:19","series":"Pastures volts (kV)","value":10.38},
      {"time":"2020-01-02T00:21","series":"Pastures volts (kV)","value":10.385},
      {"time":"2020-01-02T00:23","series":"Pastures volts (kV)","value":10.38},
      {"time":"2020-01-02T00:25","series":"Pastures volts (kV)","value":10.386},
      {"time":"2020-01-02T00:27","series":"Pastures volts (kV)","value":10.391},
      {"time":"2020-01-02T00:29","series":"Pastures volts (kV)","value":10.382},
      {"time":"2020-01-02T00:30","series":"Pastures volts (kV)","value":10.355},
      {"time":"2020-01-02T00:31","series":"Pastures volts (kV)","value":10.346},
      {"time":"2020-01-02T00:32","series":"Pastures volts (kV)","value":10.35},
      {"time":"2020-01-02T00:33","series":"Pastures volts (kV)","value":10.365},
      {"time":"2020-01-02T00:34","series":"Pastures volts (kV)","value":10.393},
      {"time":"2020-01-02T00:35","series":"Pastures volts (kV)","value":10.423},
      {"time":"2020-01-02T00:36","series":"Pastures volts (kV)","value":10.405},
      {"time":"2020-01-02T00:39","series":"Pastures volts (kV)","value":10.403},
      {"time":"2020-01-02T00:41","series":"Pastures volts (kV)","value":10.386},
      {"time":"2020-01-02T00:44","series":"Pastures volts (kV)","value":10.368},
      {"time":"2020-01-02T00:45","series":"Pastures volts (kV)","value":10.363},
      {"time":"2020-01-02T00:48","series":"Pastures volts (kV)","value":10.358},
      {"time":"2020-01-02T00:50","series":"Pastures volts (kV)","value":10.37},
      {"time":"2020-01-02T00:53","series":"Pastures volts (kV)","value":10.374},
      {"time":"2020-01-02T00:55","series":"Pastures volts (kV)","value":10.379},
      {"time":"2020-01-02T00:58","series":"Pastures volts (kV)","value":10.368},
      {"time":"2020-01-02T01:02","series":"Pastures volts (kV)","value":10.358},
      {"time":"2020-01-02T01:05","series":"Pastures volts (kV)","value":10.349},
      {"time":"2020-01-02T01:06","series":"Pastures volts (kV)","value":10.336},
      {"time":"2020-01-02T01:08","series":"Pastures volts (kV)","value":10.364},
      {"time":"2020-01-02T01:10","series":"Pastures volts (kV)","value":10.355},
      {"time":"2020-01-02T01:12","series":"Pastures volts (kV)","value":10.354},
      {"time":"2020-01-02T01:16","series":"Pastures volts (kV)","value":10.358},
      {"time":"2020-01-02T01:19","series":"Pastures volts (kV)","value":10.364},
      {"time":"2020-01-02T01:23","series":"Pastures volts (kV)","value":10.374},
      {"time":"2020-01-02T01:24","series":"Pastures volts (kV)","value":10.362},
      {"time":"2020-01-02T01:26","series":"Pastures volts (kV)","value":10.362},
      {"time":"2020-01-02T01:29","series":"Pastures volts (kV)","value":10.379},
      {"time":"2020-01-02T01:30","series":"Pastures volts (kV)","value":10.382},
      {"time":"2020-01-02T01:33","series":"Pastures volts (kV)","value":10.379},
      {"time":"2020-01-02T01:35","series":"Pastures volts (kV)","value":10.379},
      {"time":"2020-01-02T01:37","series":"Pastures volts (kV)","value":10.374}
    ],
    "boxes": [
      {"box":"import","time":"2020-01-01T22:09:07","time2":"2020-01-01T23:38:35","value":70.1,"value2":30.3},
      {"box":"export","time":"2020-01-02T00:00:50","time2":"2020-01-02T01:30:18","value":-6.4,"value2":-45.3},
      {"box":"ess","time":"2020-01-02T00:05:30","time2":"2020-01-02T01:31:22","value":145.2,"value2":117.9}
    ],
    "notes": [
      {"box":"import","part":"body","time":"2020-01-01T22:13:20","value":61.35,"text":"Voltage above deadband causes"},
      {"box":"import","part":"body","time":"2020-01-01T22:13:20","value":50.23,"text":"import of real and"},
      {"box":"import","part":"reactive","time":"2020-01-01T23:00:00","value":50.23,"text":"reactive"},
      {"box":"import","part":"body","time":"2020-01-01T22:13:20","value":39.5,"text":"power to reduce voltage"},
      {"box":"export","part":"body","time":"2020-01-02T00:05:05","value":-15.3,"text":"Voltage below deadband causes"},
      {"box":"export","part":"body","time":"2020-01-02T00:05:05","value":-26,"text":"export of real and"},
      {"box":"export","part":"reactive","time":"2020-01-02T00:51:43","value":-26,"text":"reactive"},
      {"box":"export","part":"body","time":"2020-01-02T00:05:05","value":-36.75,"text":"power to increase voltage"},
      {"box":"ess","part":"body","time":"2020-01-02T00:47:04","value":136.9,"text":"Black line shows what voltage"},
      {"box":"ess","part":"body","time":"2020-01-02T00:47:04","value":126.2,"text":"would have been without ESS"}
    ],
    "callouts": [
      {"box":"import","seq":1,"time":"2020-01-01T23:06:47","value":27.3},
      {"box":"import","seq":2,"time":"2020-01-01T23:06:47","value":17.5},
      {"box":"import","seq":3,"time":"2020-01-01T22:27:34","value":1.2},
      {"box":"export","seq":1,"time":"2020-01-02T00:30:56","value":-3.1},
      {"box":"export","seq":2,"time":"2020-01-02T00:30:56","value":5.2},
      {"box":"export","seq":3,"time":"2020-01-02T00:17:22","value":22},
      {"box":"ess","seq":1,"time":"2020-01-02T01:00:37","value":117.9},
      {"box":"ess","seq":2,"time":"2020-01-02T01:00:37","value":108.7},
      {"box":"ess","seq":3,"time":"2020-01-02T00:48:07","value":94.6}
    ]
  },
  "encoding": {
    "x": {
      "field": "time",
      "type": "temporal",
      "scale": {
        "domain": [
          {"year": 2020, "month": 1, "date": 1, "hours": 22, "minutes": 0},
          {"year": 2020, "month": 1, "date": 2, "hours": 1, "minutes": 37}
        ],
        "nice": false
      },
      "axis": {
        "title": null,
        "format": "%H:%M",
        "values": [
          {"year": 2020, "month": 1, "date": 1, "hours": 22, "minutes": 0},
          {"year": 2020, "month": 1, "date": 1, "hours": 22, "minutes": 30},
          {"year": 2020, "month": 1, "date": 1, "hours": 23, "minutes": 0},
          {"year": 2020, "month": 1, "date": 1, "hours": 23, "minutes": 30},
          {"year": 2020, "month": 1, "date": 2, "hours": 0, "minutes": 0},
          {"year": 2020, "month": 1, "date": 2, "hours": 0, "minutes": 30},
          {"year": 2020, "month": 1, "date": 2, "hours": 1, "minutes": 0},
          {"year": 2020, "month": 1, "date": 2, "hours": 1, "minutes": 30}
        ],
        "grid": false,
        "domainColor": "#969696",
        "tickColor": "#969696",
        "tickSize": 8,
        "labelPadding": 10,
        "labelFlush": false,
        "labelFont": "Lato",
        "labelFontSize": 20,
        "labelColor": "#000000"
      }
    }
  },
  "layer": [
    {
      "data": {"name": "series"},
      "encoding": {
        "y": {
          "field": "value",
          "type": "quantitative",
          "scale": {"domain": [-50, 150], "nice": false, "zero": false},
          "axis": {
            "orient": "left",
            "title": "ESS Power (kW/kVAr) / SoC (%)",
            "values": [-50, -25, 0, 25, 50, 75, 100, 125, 150],
            "labelExpr": "'' + datum.value",
            "grid": true,
            "gridColor": "#969696",
            "domainColor": "#969696",
            "tickColor": "#969696",
            "tickSize": 8,
            "labelPadding": 16,
            "labelFont": "Lato",
            "labelFontSize": 20,
            "labelColor": "#000000",
            "titleFont": "Lato",
            "titleFontSize": 20,
            "titleFontWeight": "bold",
            "titleColor": "#000000",
            "titlePadding": 6
          }
        },
        "color": {
          "field": "series",
          "type": "nominal",
          "title": null,
          "scale": {
            "domain": ["ESS Q (kVAr)", "ESS P (kW)", "SoC (%)", "pre_Pastures V", "Pastures volts (kV)"],
            "range": ["#4BACC6", "#8064A2", "#F79646", "#000000", "#4F81BD"]
          }
        },
        "strokeDash": {
          "field": "series",
          "type": "nominal",
          "title": null,
          "scale": {
            "domain": ["ESS Q (kVAr)", "ESS P (kW)", "SoC (%)", "pre_Pastures V", "Pastures volts (kV)"],
            "range": [[1, 0], [1, 0], [1, 0], [8, 4], [11, 5]]
          }
        }
      },
      "layer": [
        {"transform": [{"filter": "datum.series === 'ESS Q (kVAr)'"}], "mark": {"type": "line", "strokeWidth": 3.5}, "encoding": {}},
        {"transform": [{"filter": "datum.series === 'ESS P (kW)'"}], "mark": {"type": "line", "strokeWidth": 3.5}, "encoding": {}},
        {"transform": [{"filter": "datum.series === 'SoC (%)'"}], "mark": {"type": "line", "strokeWidth": 3.5}, "encoding": {}}
      ]
    },
    {
      "data": {"name": "series"},
      "encoding": {
        "y": {
          "field": "value",
          "type": "quantitative",
          "scale": {"domain": [9.8, 10.6], "nice": false, "zero": false},
          "axis": {
            "orient": "right",
            "title": "Voltage (kV)",
            "values": [9.8, 9.9, 10, 10.1, 10.2, 10.3, 10.4, 10.5, 10.6],
            "labelExpr": "'' + datum.value",
            "grid": false,
            "domainColor": "#969696",
            "tickColor": "#969696",
            "tickSize": 8,
            "labelPadding": 14,
            "labelFont": "Lato",
            "labelFontSize": 20,
            "labelColor": "#000000",
            "titleFont": "Lato",
            "titleFontSize": 20,
            "titleFontWeight": "bold",
            "titleColor": "#000000",
            "titlePadding": 10
          }
        },
        "color": {
          "field": "series",
          "type": "nominal",
          "title": null,
          "scale": {
            "domain": ["ESS Q (kVAr)", "ESS P (kW)", "SoC (%)", "pre_Pastures V", "Pastures volts (kV)"],
            "range": ["#4BACC6", "#8064A2", "#F79646", "#000000", "#4F81BD"]
          }
        },
        "strokeDash": {
          "field": "series",
          "type": "nominal",
          "title": null,
          "scale": {
            "domain": ["ESS Q (kVAr)", "ESS P (kW)", "SoC (%)", "pre_Pastures V", "Pastures volts (kV)"],
            "range": [[1, 0], [1, 0], [1, 0], [8, 4], [11, 5]]
          }
        }
      },
      "layer": [
        {"transform": [{"filter": "datum.series === 'pre_Pastures V'"}], "mark": {"type": "line", "strokeWidth": 4}, "encoding": {}},
        {"transform": [{"filter": "datum.series === 'Pastures volts (kV)'"}], "mark": {"type": "line", "strokeWidth": 4}, "encoding": {}}
      ]
    },
    {
      "encoding": {
        "y": {
          "field": "value",
          "type": "quantitative",
          "scale": {"domain": [-50, 150], "nice": false, "zero": false},
          "axis": null
        }
      },
      "layer": [
        {
          "data": {"name": "callouts"},
          "transform": [{"filter": "datum.box !== 'ess'"}],
          "mark": {"type": "line", "color": "#8064A2", "strokeWidth": 4},
          "encoding": {"detail": {"field": "box"}, "order": {"field": "seq", "type": "quantitative"}}
        },
        {
          "data": {"name": "callouts"},
          "transform": [{"filter": "datum.box === 'ess'"}],
          "mark": {"type": "line", "color": "#000000", "strokeWidth": 4.5, "strokeDash": [12, 6]},
          "encoding": {"detail": {"field": "box"}, "order": {"field": "seq", "type": "quantitative"}}
        },
        {
          "data": {"name": "boxes"},
          "transform": [{"filter": "datum.box !== 'ess'"}],
          "mark": {"type": "rect", "fill": "white", "stroke": "#8064A2", "strokeWidth": 4, "cornerRadius": 3},
          "encoding": {"x2": {"field": "time2"}, "y2": {"field": "value2"}}
        },
        {
          "data": {"name": "boxes"},
          "transform": [{"filter": "datum.box === 'ess'"}],
          "mark": {"type": "rect", "fill": "white", "stroke": "#000000", "strokeWidth": 4, "strokeDash": [12, 6]},
          "encoding": {"x2": {"field": "time2"}, "y2": {"field": "value2"}}
        },
        {
          "data": {"name": "notes"},
          "transform": [{"filter": "datum.box !== 'ess' && datum.part === 'body'"}],
          "mark": {"type": "text", "align": "left", "baseline": "middle", "font": "Lato", "fontSize": 27, "color": "#8064A2"},
          "encoding": {"text": {"field": "text"}}
        },
        {
          "data": {"name": "notes"},
          "transform": [{"filter": "datum.part === 'reactive'"}],
          "mark": {"type": "text", "align": "left", "baseline": "middle", "font": "Lato", "fontSize": 27, "color": "#4BACC6"},
          "encoding": {"text": {"field": "text"}}
        },
        {
          "data": {"name": "notes"},
          "transform": [{"filter": "datum.box === 'ess'"}],
          "mark": {"type": "text", "align": "center", "baseline": "middle", "font": "Lato", "fontSize": 27, "color": "#000000"},
          "encoding": {"text": {"field": "text"}}
        }
      ]
    }
  ],
  "resolve": {"scale": {"y": "independent"}, "axis": {"y": "independent"}}
}
